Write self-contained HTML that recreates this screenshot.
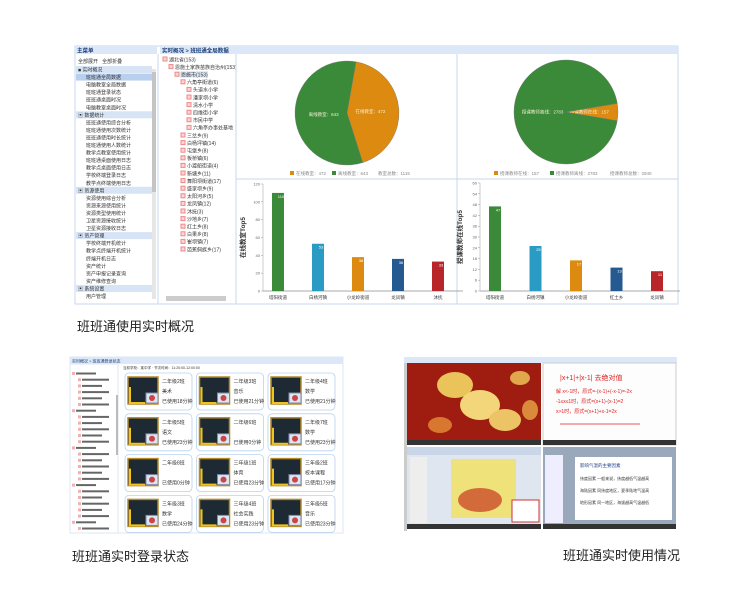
<!DOCTYPE html>
<html><head><meta charset="utf-8">
<style>
body{margin:0;background:#fff;font-family:"Liberation Sans","Noto Sans CJK SC",sans-serif;}
#root{position:relative;width:750px;height:614px;overflow:hidden;}
.cap{position:absolute;font-size:13px;color:#222;}
</style></head>
<body>
<div id="root">
<svg id="svg" width="750" height="614" xmlns="http://www.w3.org/2000/svg" style="position:absolute;left:0;top:0;font-family:'Liberation Sans','Noto Sans CJK SC',sans-serif">
  <rect x="75" y="46" width="603" height="258" fill="#fff" stroke="#c7d7ec"/>
  <rect x="75" y="46" width="82" height="8" fill="#dce8f7"/>
  <text x="77" y="52.5" font-size="5.5" fill="#1c3f7a" font-weight="bold">主菜单</text>
  <rect x="160" y="46" width="518" height="8" fill="#dce8f7"/>
  <text x="162" y="52.5" font-size="5.5" fill="#1c3f7a" font-weight="bold">实时概况 &gt; 班班通全局数据</text>
  <text x="78" y="63" font-size="5" fill="#333">全部展开 &#160;&#160;全部折叠</text>
  <g id="sidebar"></g>
  <rect x="152" y="69" width="4" height="230" fill="#e6e6e6"/>
  <rect x="152" y="72" width="4" height="120" fill="#c4c4c4"/>
  <line x1="158" y1="54" x2="158" y2="304" stroke="#c7d7ec"/>
  <g id="tree"></g>
  <rect x="166" y="296" width="60" height="5" fill="#ccc"/>
  <line x1="236" y1="54" x2="236" y2="304" stroke="#c7d7ec"/>
  <line x1="236" y1="179" x2="678" y2="179" stroke="#c7d7ec"/>
  <line x1="457" y1="54" x2="457" y2="304" stroke="#c7d7ec"/>
  <g id="charts"></g>

  <rect x="70" y="357" width="273" height="176" fill="#fff" stroke="#dde7f3"/>
  <rect x="70" y="357" width="273" height="7" fill="#dce8f7"/>
  <text x="72" y="362.5" font-size="4" fill="#1c3f7a">实时概况 &gt; 班班通登录状态</text>
  <rect x="70" y="364" width="48" height="169" fill="#fff" stroke="#dde7f3"/>
  <rect x="116" y="395" width="2" height="60" fill="#bbb"/>
  <g id="bltree"></g>
  <text x="123" y="369" font-size="3.5" fill="#333">当前学校：某中学 · 节次时间：11:20:00-12:00:00</text>
  <g id="cards"></g>

  <rect x="404" y="357" width="273" height="176" fill="#fff"/>
  <rect x="404" y="357" width="273" height="6" fill="#dce8f7"/>
  <rect x="404" y="363" width="3" height="168" fill="#ccc"/>
  <g>
    <rect x="407" y="363" width="134" height="82" fill="#9e1c10"/>
    <ellipse cx="455" cy="385" rx="18" ry="13" fill="#eac35a"/>
    <ellipse cx="480" cy="405" rx="20" ry="15" fill="#f3d67a"/>
    <ellipse cx="505" cy="420" rx="16" ry="11" fill="#ecc465"/>
    <ellipse cx="520" cy="378" rx="10" ry="7" fill="#e0a84a"/>
    <ellipse cx="530" cy="410" rx="8" ry="10" fill="#d98a3a"/>
    <ellipse cx="440" cy="425" rx="12" ry="8" fill="#d87830"/>
    <rect x="407" y="440" width="134" height="5" fill="#333"/>
  </g>
  <g>
    <rect x="543" y="363" width="133" height="82" fill="#fdfdfd" stroke="#ccc"/>
    <text x="560" y="380" font-size="7" fill="#d22">|x+1|+|x-1|  去绝对值</text>
    <text x="556" y="393" font-size="5" fill="#d22">解 x&lt;-1时，原式=-(x-1)+(-x-1)=-2x</text>
    <text x="556" y="403" font-size="5" fill="#d22">-1≤x≤1时，原式=(x+1)-(x-1)=2</text>
    <text x="556" y="413" font-size="5" fill="#d22">x&gt;1时，原式=(x+1)+x-1=2x</text>
    <line x1="560" y1="424" x2="640" y2="424" stroke="#d22" stroke-width="0.8"/>
    <rect x="543" y="440" width="133" height="5" fill="#333"/>
  </g>
  <g>
    <rect x="407" y="447" width="134" height="82" fill="#dfe6ef"/>
    <rect x="407" y="447" width="134" height="8" fill="#c9d6e8"/>
    <rect x="410" y="457" width="17" height="66" fill="#eee"/>
    <rect x="451" y="459" width="65" height="59" fill="#f0e27a"/>
    <ellipse cx="480" cy="500" rx="22" ry="12" fill="#d26a3a"/>
    <rect x="512" y="500" width="27" height="22" fill="#fff" stroke="#c33"/>
    <rect x="407" y="524" width="134" height="5" fill="#333"/>
  </g>
  <g>
    <rect x="543" y="447" width="133" height="82" fill="#9aa8bb"/>
    <rect x="545" y="455" width="18" height="68" fill="#eef"/>
    <rect x="575" y="457" width="97" height="63" fill="#fff"/>
    <text x="580" y="467" font-size="4.5" fill="#1a3a8a">影响气温的主要因素</text>
    <text x="580" y="480" font-size="4" fill="#333">纬度因素  一般来说，纬度越低气温越高</text>
    <text x="580" y="492" font-size="4" fill="#333">海陆因素  同纬度地区，夏季陆地气温高</text>
    <text x="580" y="504" font-size="4" fill="#333">地形因素  同一地区，海拔越高气温越低</text>
    <rect x="543" y="524" width="133" height="5" fill="#333"/>
  </g>
</svg>
<div class="cap" style="left:77px;top:316px">班班通使用实时概况</div>
<div class="cap" style="left:72px;top:546px">班班通实时登录状态</div>
<div class="cap" style="left:563px;top:545px">班班通实时使用情况</div>
</div>
<script>
const NS="http://www.w3.org/2000/svg";
const svg=document.getElementById('svg');
function mk(tag,attrs,parent,txt){const e=document.createElementNS(NS,tag);for(const k in attrs)e.setAttribute(k,attrs[k]);if(txt!==undefined)e.textContent=txt;(parent||svg).appendChild(e);return e;}

const pie1Labels=["在线教室","离线教室"];
const pie1Values=[472,643];
const pie2Labels=["授课教师在线","授课教师离线"];
const pie2Values=[157,2783];
const bar1Categories=["塔阳街道","白杨河镇","小龙岭街道","龙凤镇","沐抚"];
const bar1Values=[110,53,38,36,33];
const bar1Ticks=[0,20,40,60,80,100,120];
const bar2Categories=["塔阳街道","白杨河镇","小龙岭街道","红土乡","龙凤镇"];
const bar2Values=[47,25,17,13,11];
const bar2Ticks=[0,6,12,18,24,30,36,42,48,54,60];
const barColors=["#3a8a3a","#2a9cc4","#dd8a10","#245a90","#b8262a"];
const sidebarItems=["■ 实时概况","班班通全局数据","电脑教室全局数据","班班通登录状态","班班通桌面时况","电脑教室桌面时况","▣ 数据统计","班班通使用综合分析","班班通使用次数统计","班班通使用时长统计","班班通使用人数统计","教学点教室使用统计","班班通桌面使用日志","教学点桌面使用日志","学校终端登录日志","教学点终端使用日志","▣ 资源使用","资源使用综合分析","资源来源使用统计","资源类型使用统计","卫星资源接收统计","卫星资源接收日志","▣ 资产管理","学校终端开机统计","教学点终端开机统计","终端开机日志","资产统计","资产申报记录查询","资产维修查询","▣ 系统设置","用户管理"];
const treeItems=[[0,"湖北省(153)"],[1,"恩施土家族苗族自治州(153)"],[2,"恩施市(153)"],[3,"六角亭街道(6)"],[4,"头道水小学"],[4,"潘家坝小学"],[4,"清水小学"],[4,"四维街小学"],[4,"市民中学"],[4,"六角亭办事处基地"],[3,"三岔乡(9)"],[3,"白杨坪镇(14)"],[3,"屯堡乡(8)"],[3,"板桥镇(6)"],[3,"小渡船街道(4)"],[3,"新塘乡(11)"],[3,"舞阳坝街道(17)"],[3,"盛家坝乡(9)"],[3,"太阳河乡(5)"],[3,"龙凤镇(12)"],[3,"沐抚(3)"],[3,"沙地乡(7)"],[3,"红土乡(8)"],[3,"白果乡(8)"],[3,"崔坝镇(7)"],[3,"芭蕉侗族乡(17)"]];
const cardClasses=["二年级2班","二年级3班","二年级4班","二年级5班","二年级6班","二年级7班","二年级8班","三年级1班","三年级2班","三年级3班","三年级4班","三年级5班"];
const cardSubjects=["美术","音乐","数学","语文","","数学","","体育","校本课程","数学","社会实践","音乐"];
const cardMinutes=[18,21,21,23,0,23,0,23,17,24,23,23];

const sb=document.getElementById('sidebar');
sidebarItems.forEach((t,i)=>{
  const y=66+i*7.55;const head=t.startsWith("■")||t.startsWith("▣");
  if(head){mk('rect',{x:76,y:y,width:76,height:7,fill:'#d6e4f5'},sb);}
  if(i===1){mk('rect',{x:76,y:y,width:76,height:7,fill:'#b9cfee'},sb);}
  const e=mk('text',{x:head?78:86,y:y+5.5,'font-size':5,fill:'#333'},sb,t);
  
  
});
const tr=document.getElementById('tree');
treeItems.forEach((it,i)=>{
  const y=56+i*7.6;const x=163+it[0]*6;
  mk('rect',{x:x,y:y+1,width:4,height:4,fill:'#fbd6d6',stroke:'#e88'},tr);
  if(it[0]===2)mk('rect',{x:x+5,y:y,width:28,height:6.5,fill:'#dde8f7'},tr);
  const e=mk('text',{x:x+6,y:y+5.3,'font-size':5,fill:'#333'},tr,it[1]);
  
  
});

const ch=document.getElementById('charts');
function pie(cx,cy,r,vals,labels,startDeg,name,legendX,totalLabel,step){
  const g=mk('g',{},ch);
  
  
  const cols=["#dd8a10","#3a8a3a"];
  const tot=vals.reduce((a,b)=>a+b,0);let a=startDeg;
  vals.forEach((v,i)=>{
    const sweep=v/tot*360;const a0=(a-90)*Math.PI/180,a1=(a+sweep-90)*Math.PI/180;
    const d=`M${cx},${cy} L${cx+r*Math.cos(a0)},${cy+r*Math.sin(a0)} A${r},${r} 0 ${sweep>180?1:0} 1 ${cx+r*Math.cos(a1)},${cy+r*Math.sin(a1)} Z`;
    const p=mk('path',{d:d,fill:cols[i],stroke:'#777','stroke-width':0.4},g);
    
    
    const am=(a+sweep/2-90)*Math.PI/180;
    mk('text',{x:cx+r*0.45*Math.cos(am),y:cy+r*0.45*Math.sin(am)+1.5,'font-size':4.5,fill:'#f4f0d0','text-anchor':'middle'},g,labels[i]+"："+v);
    a+=sweep;
  });
  let lx=legendX;
  vals.forEach((v,i)=>{
    mk('rect',{x:lx,y:171,width:4,height:4,fill:cols[i]},g);
    mk('text',{x:lx+6,y:175,'font-size':4.5,fill:'#888'},g,labels[i]+"："+v);
    lx+=step;
  });
  mk('text',{x:lx+4,y:175,'font-size':4.5,fill:'#888'},g,totalLabel+"："+tot);
}
pie(347,113,52,pie1Values,pie1Labels,10,'pie-classroom-online',290,'教室总数',42);
pie(566,112,52,pie2Values,pie2Labels,80.5,'pie-teacher-online',494,'授课教师总数',56);

function bars(axisX,y0,yTop,xFirst,step,cats,vals,ticks,title,name){
  const g=mk('g',{},ch);
  
  
  const max=ticks[ticks.length-1];
  const ys=v=>y0-(v/max)*(y0-yTop);
  mk('line',{x1:axisX,y1:yTop,x2:axisX,y2:y0,stroke:'#999','stroke-width':0.5},g);
  mk('line',{x1:axisX,y1:y0,x2:axisX+200,y2:y0,stroke:'#aaa','stroke-width':1},g);
  ticks.forEach(t=>{
    mk('line',{x1:axisX-2,y1:ys(t),x2:axisX,y2:ys(t),stroke:'#999','stroke-width':0.5},g);
    mk('text',{x:axisX-3,y:ys(t)+1.5,'font-size':4,fill:'#666','text-anchor':'end'},g,t);
  });
  const tx=axisX-18,ty=(y0+yTop)/2;
  mk('text',{x:tx,y:ty,'font-size':6.5,fill:'#333','font-weight':'bold','text-anchor':'middle',transform:`rotate(-90 ${tx} ${ty})`},g,title);
  cats.forEach((c,i)=>{
    const cx=xFirst+i*step;
    const b=mk('rect',{x:cx-6,y:ys(vals[i]),width:12,height:y0-ys(vals[i]),fill:barColors[i]},g);
    
    
    mk('text',{x:cx+3,y:ys(vals[i])+5,'font-size':4,fill:'#fff','text-anchor':'middle'},g,vals[i]);
    mk('text',{x:cx,y:y0+8,'font-size':4.5,fill:'#333','text-anchor':'middle'},g,c);
  });
}
bars(263,291,184,278,40,bar1Categories,bar1Values,bar1Ticks,'在线教室Top5','bar-chart-classrooms');
bars(480,291,183,495,40.5,bar2Categories,bar2Values,bar2Ticks,'授课教师在线Top5','bar-chart-teachers');

const bt=document.getElementById('bltree');
for(let i=0;i<26;i++){
  const y=372+i*6.2;
  mk('rect',{x:i%6===0?72:78,y:y,width:3,height:3,fill:'#f3b0b0'},bt);
  mk('rect',{x:i%6===0?76:82,y:y+0.5,width:20+(i*7)%14,height:2,fill:'#666'},bt);
}
const cg=document.getElementById('cards');
cardClasses.forEach((c,i)=>{
  const col=i%3,row=Math.floor(i/3);
  const x=125+col*71.5,y=373+row*40.8;
  const g=mk('g',{},cg);
  
  
  mk('rect',{x:x,y:y,width:67,height:37,rx:4,fill:'#fff',stroke:'#b9d2ee','stroke-width':0.8},g);
  mk('rect',{x:x+3,y:y+4,width:30,height:27,fill:'#1e2a33',stroke:'#b48a2a','stroke-width':1.5},g);
  mk('path',{d:`M${x+5},${y+14} L${x+5},${y+30} L${x+20},${y+30}`,stroke:'#f0c420','stroke-width':2,fill:'none'},g);
  mk('rect',{x:x+21,y:y+20,width:12,height:10,fill:'#dbe6f3',stroke:'#88a'},g);
  mk('circle',{cx:x+27,cy:y+25,r:3,fill:'#c44'},g);
  mk('text',{x:x+37,y:y+10,'font-size':5,fill:'#333'},g,c);
  mk('text',{x:x+37,y:y+20,'font-size':5,fill:'#333'},g,cardSubjects[i]);
  mk('text',{x:x+37,y:y+30,'font-size':5,fill:'#333'},g,"已使用"+cardMinutes[i]+"分钟");
});
</script>
</body></html>
